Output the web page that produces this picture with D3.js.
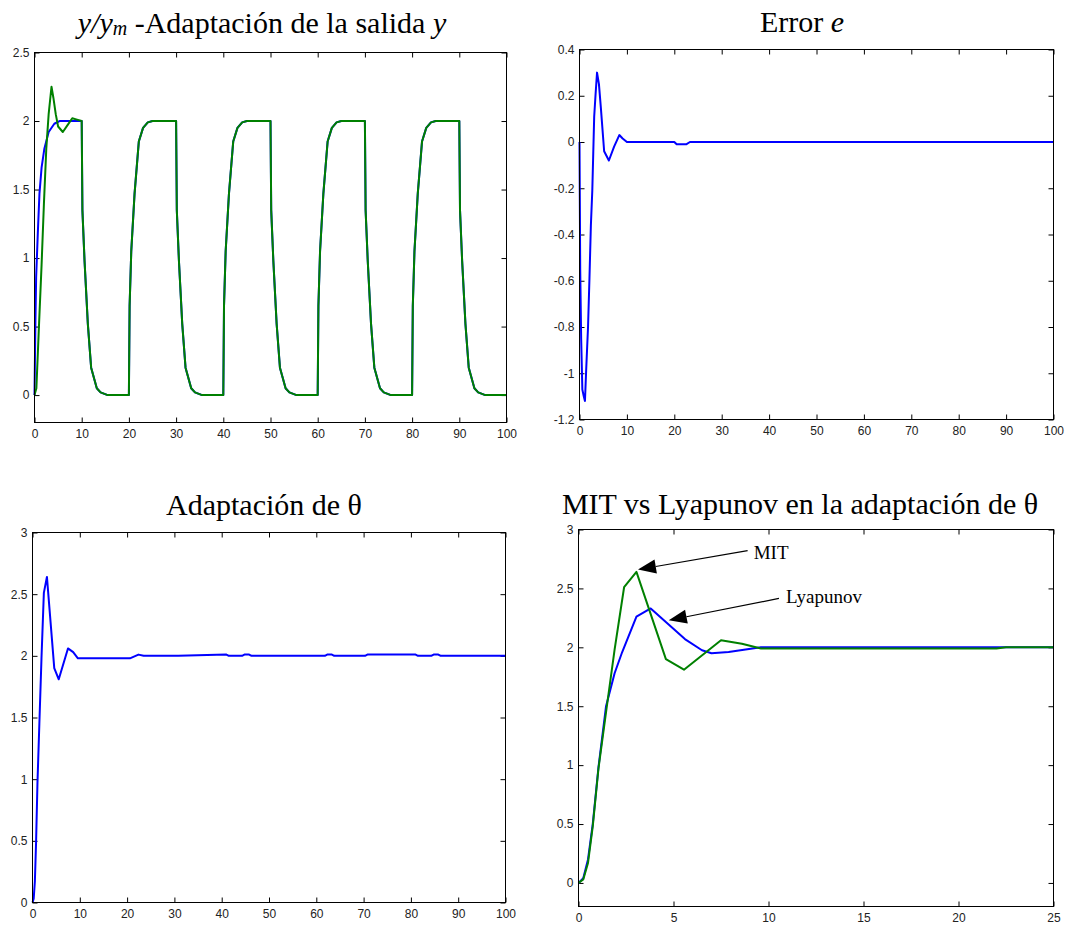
<!DOCTYPE html>
<html>
<head>
<meta charset="utf-8">
<script src="https://cdn.jsdelivr.net/npm/d3@7"></script>
<style>
  body { margin: 0; background: #fff; }
  text { white-space: pre; }
</style>
</head>
<body>
<div class="chart"></div>
<script>
// ---- data ----

// y/ym : first 10 s of the model output (blue) and plant output (green)
var tModelo0 = [0, 0.2, 0.35, 0.7, 1.05, 1.5, 2.1, 3.0, 4.2, 5.3, 10];
var yModelo0 = [0, 0.55, 0.86, 1.18, 1.47, 1.66, 1.8, 1.92, 1.98, 2.0, 2.0];
var tSalida0 = [0, 0.4, 1.0, 1.5, 2.0, 2.5, 3.0, 3.6, 4.0, 4.5, 5.0, 6.0, 7.0, 8.0, 9.0, 10.0];
var ySalida0 = [0, 0.05, 0.55, 0.95, 1.4, 1.8, 2.05, 2.25, 2.17, 2.05, 1.96, 1.92, 1.97, 2.02, 2.01, 2.0];
// after 10 s both outputs coincide
var tCiclos = [10.15, 10.6, 11.3, 12, 13.2, 14, 15.5, 20,
  20.15, 20.5, 21.2, 22.1, 23, 24, 25, 30,
  30.15, 30.6, 31.3, 32, 33.2, 34, 35.5, 40,
  40.15, 40.5, 41.2, 42.1, 43, 44, 45, 50,
  50.15, 50.6, 51.3, 52, 53.2, 54, 55.5, 60,
  60.15, 60.5, 61.2, 62.1, 63, 64, 65, 70,
  70.15, 70.6, 71.3, 72, 73.2, 74, 75.5, 80,
  80.15, 80.5, 81.2, 82.1, 83, 84, 85, 90,
  90.15, 90.6, 91.3, 92, 93.2, 94, 95.5, 100];
var yCiclos = [1.35, 0.98, 0.52, 0.2, 0.05, 0.02, 0, 0,
  0.65, 1.05, 1.47, 1.85, 1.95, 1.99, 2.0, 2.0,
  1.35, 0.98, 0.52, 0.2, 0.05, 0.02, 0, 0,
  0.65, 1.05, 1.47, 1.85, 1.95, 1.99, 2.0, 2.0,
  1.35, 0.98, 0.52, 0.2, 0.05, 0.02, 0, 0,
  0.65, 1.05, 1.47, 1.85, 1.95, 1.99, 2.0, 2.0,
  1.35, 0.98, 0.52, 0.2, 0.05, 0.02, 0, 0,
  0.65, 1.05, 1.47, 1.85, 1.95, 1.99, 2.0, 2.0,
  1.35, 0.98, 0.52, 0.2, 0.05, 0.02, 0, 0];

// error e
var tError = [0, 0.15, 0.35, 0.6, 0.9, 1.15, 1.4, 1.8, 2.1, 2.4, 2.7, 2.9, 3.1, 3.4, 3.7, 4.1, 4.5, 5.2, 6.2, 7.3, 8.4, 9.1, 10, 20, 20.5, 22.5, 23.3, 100];
var eError = [0, -0.55, -0.85, -1.07, -1.1, -1.12, -0.99, -0.8, -0.59, -0.36, -0.21, -0.05, 0.11, 0.21, 0.30, 0.25, 0.15, -0.04, -0.08, -0.02, 0.03, 0.015, 0, 0, -0.01, -0.01, 0, 0];

// theta adaptation (MIT), 0..100 s
var tTheta = [0, 0.25, 0.5, 0.75, 1.05, 1.45, 1.9, 2.4, 3.05, 4.6, 5.55, 7.5, 8.6, 9.6, 20.6, 22.4, 23.5, 30.8, 41, 41.5, 44.3, 44.8, 45.8, 46.3, 61.8, 62.3, 63.3, 63.8, 70.3, 70.8, 81, 81.5, 84.3, 84.8, 85.8, 86.3, 100];
var vTheta = [0, 0.03, 0.17, 0.48, 0.97, 1.45, 1.98, 2.51, 2.64, 1.9, 1.81, 2.06, 2.03, 1.98, 1.98, 2.01, 2.0, 2.0, 2.01, 2.0, 2.0, 2.01, 2.01, 2.0, 2.0, 2.01, 2.01, 2.0, 2.0, 2.01, 2.01, 2.0, 2.0, 2.01, 2.01, 2.0, 2.0];

// MIT vs Lyapunov, 0..25 s
var tLyap = [0, 0.25, 0.5, 0.75, 1.05, 1.45, 1.9, 2.3, 3.05, 3.8, 4.7, 5.6, 6.5, 7.0, 7.9, 9.6, 25];
var vLyap = [0, 0.04, 0.2, 0.5, 0.98, 1.5, 1.78, 1.96, 2.26, 2.33, 2.2, 2.07, 1.975, 1.95, 1.96, 2.0, 2.0];
var tMit = [0, 0.25, 0.5, 0.75, 1.05, 1.45, 1.9, 2.4, 3.05, 4.6, 5.55, 7.5, 8.6, 9.6, 22, 22.5, 25];
var vMit = [0, 0.03, 0.17, 0.48, 0.97, 1.45, 1.98, 2.51, 2.64, 1.9, 1.81, 2.06, 2.03, 1.99, 1.99, 2.0, 2.0];

// annotations on the last panel (data coordinates)
var notaTexto = ["MIT", "Lyapunov"];
var notaT = [9.22, 10.92], notaV = [2.75, 2.375];
var flechaDesdeT = [8.9, 10.55], flechaDesdeV = [2.82, 2.415];
var flechaHastaT = [3.13, 4.75], flechaHastaV = [2.66, 2.23];

// tick values
var xTicks100 = [0, 10, 20, 30, 40, 50, 60, 70, 80, 90, 100];
var xTicks25 = [0, 5, 10, 15, 20, 25];
var yTicksSalida = [0, 0.5, 1, 1.5, 2, 2.5];
var yTicksError = [-1.2, -1, -0.8, -0.6, -0.4, -0.2, 0, 0.2, 0.4];
var yTicksTheta = [0, 0.5, 1, 1.5, 2, 2.5, 3];

var azul = "#0000ff", verde = "#008000";

// ---- drawing ----
var svg = d3.select(".chart").append("svg")
    .attr("width", 1066)
    .attr("height", 926);

var panels = [
  { left: 34.5, right: 506.5, top: 52.5, bottom: 422.5, xDomain: [0, 100], yDomain: [-0.2, 2.5],
    xTicks: xTicks100, yTicks: yTicksSalida,
    series: [{ t: tModelo0.concat(tCiclos), v: yModelo0.concat(yCiclos), color: azul },
             { t: tSalida0.concat(tCiclos), v: ySalida0.concat(yCiclos), color: verde }] },
  { left: 579.5, right: 1053.5, top: 49.5, bottom: 419.5, xDomain: [0, 100], yDomain: [-1.2, 0.4],
    xTicks: xTicks100, yTicks: yTicksError,
    series: [{ t: tError, v: eError, color: azul }] },
  { left: 32.5, right: 505.5, top: 532.5, bottom: 902.5, xDomain: [0, 100], yDomain: [0, 3],
    xTicks: xTicks100, yTicks: yTicksTheta,
    series: [{ t: tTheta, v: vTheta, color: azul }] },
  { left: 578.5, right: 1053.5, top: 529.5, bottom: 906.5, xDomain: [0, 25], yDomain: [-0.2, 3],
    xTicks: xTicks25, yTicks: yTicksTheta,
    series: [{ t: tLyap, v: vLyap, color: azul }, { t: tMit, v: vMit, color: verde }] }
];

function styleAxis(sel) {
  sel.select(".domain").remove();
  sel.selectAll("line").attr("stroke", "#000");
  sel.selectAll("text")
    .attr("fill", "#222")
    .attr("font-size", 12)
    .attr("font-family", "'Liberation Sans', Arial, sans-serif");
}

function drawPanel(p) {
  var x = d3.scaleLinear().domain(p.xDomain).range([p.left, p.right]);
  var y = d3.scaleLinear().domain(p.yDomain).range([p.bottom, p.top]);
  var g = svg.append("g");

  g.append("rect")
    .attr("x", p.left).attr("y", p.top)
    .attr("width", p.right - p.left).attr("height", p.bottom - p.top)
    .attr("fill", "#fff");

  var fmt = function(d) { return String(d); };

  g.append("g").attr("transform", `translate(0, ${p.bottom})`)
    .call(d3.axisBottom(x).tickValues(p.xTicks).tickFormat(fmt).tickSizeInner(-5).tickSizeOuter(0).tickPadding(7))
    .call(styleAxis);
  g.append("g").attr("transform", `translate(0, ${p.top})`)
    .call(d3.axisTop(x).tickValues(p.xTicks).tickFormat("").tickSizeInner(-5).tickSizeOuter(0))
    .call(styleAxis);
  g.append("g").attr("transform", `translate(${p.left}, 0)`)
    .call(d3.axisLeft(y).tickValues(p.yTicks).tickFormat(fmt).tickSizeInner(-5).tickSizeOuter(0).tickPadding(5))
    .call(styleAxis);
  g.append("g").attr("transform", `translate(${p.right}, 0)`)
    .call(d3.axisRight(y).tickValues(p.yTicks).tickFormat("").tickSizeInner(-5).tickSizeOuter(0))
    .call(styleAxis);

  var line = d3.line().x(d => x(d[0])).y(d => y(d[1]));
  p.series.forEach(function(s) {
    g.append("path")
      .datum(d3.zip(s.t, s.v))
      .attr("fill", "none")
      .attr("stroke", s.color)
      .attr("stroke-width", 2)
      .attr("stroke-linejoin", "round")
      .attr("d", line);
  });

  g.append("rect")
    .attr("x", p.left).attr("y", p.top)
    .attr("width", p.right - p.left).attr("height", p.bottom - p.top)
    .attr("fill", "none").attr("stroke", "#000").attr("stroke-width", 1);

  p.x = x; p.y = y;
}

panels.forEach(drawPanel);

// titles
function title(cx, cy) {
  return svg.append("text")
    .attr("x", cx).attr("y", cy)
    .attr("text-anchor", "middle")
    .attr("font-family", "'Liberation Serif', 'Times New Roman', serif")
    .attr("font-size", 30)
    .attr("fill", "#000");
}
var t1 = title(262, 33);
t1.append("tspan").attr("font-style", "italic").text("y/y");
t1.append("tspan").attr("font-style", "italic").attr("font-size", 20).attr("dy", 2).text("m");
t1.append("tspan").attr("dy", -2).text(" -Adaptación de la salida ");
t1.append("tspan").attr("font-style", "italic").text("y");

var t2 = title(802, 32);
t2.append("tspan").text("Error ");
t2.append("tspan").attr("font-style", "italic").text("e");

title(264, 515).text("Adaptación de θ");
title(800, 514).text("MIT vs Lyapunov en la adaptación de θ");

// annotations with arrows
var p4 = panels[3];
notaTexto.forEach(function(txt, i) {
  var x0 = p4.x(flechaDesdeT[i]), y0 = p4.y(flechaDesdeV[i]);
  var x1 = p4.x(flechaHastaT[i]), y1 = p4.y(flechaHastaV[i]);
  var dx = x1 - x0, dy = y1 - y0, len = Math.sqrt(dx * dx + dy * dy);
  var ux = dx / len, uy = dy / len;
  var hl = 18, hw = 7;
  var bx = x1 - ux * hl, by = y1 - uy * hl;
  svg.append("line")
    .attr("x1", x0).attr("y1", y0).attr("x2", bx).attr("y2", by)
    .attr("stroke", "#000").attr("stroke-width", 1.2);
  svg.append("polygon")
    .attr("points", [[x1, y1], [bx - uy * hw, by + ux * hw], [bx + uy * hw, by - ux * hw]].map(d => d.join(",")).join(" "))
    .attr("fill", "#000");
  svg.append("text")
    .attr("x", p4.x(notaT[i])).attr("y", p4.y(notaV[i]))
    .attr("font-family", "'Liberation Serif', 'Times New Roman', serif")
    .attr("font-size", 19)
    .attr("fill", "#000")
    .text(txt);
});
</script>
</body>
</html>
